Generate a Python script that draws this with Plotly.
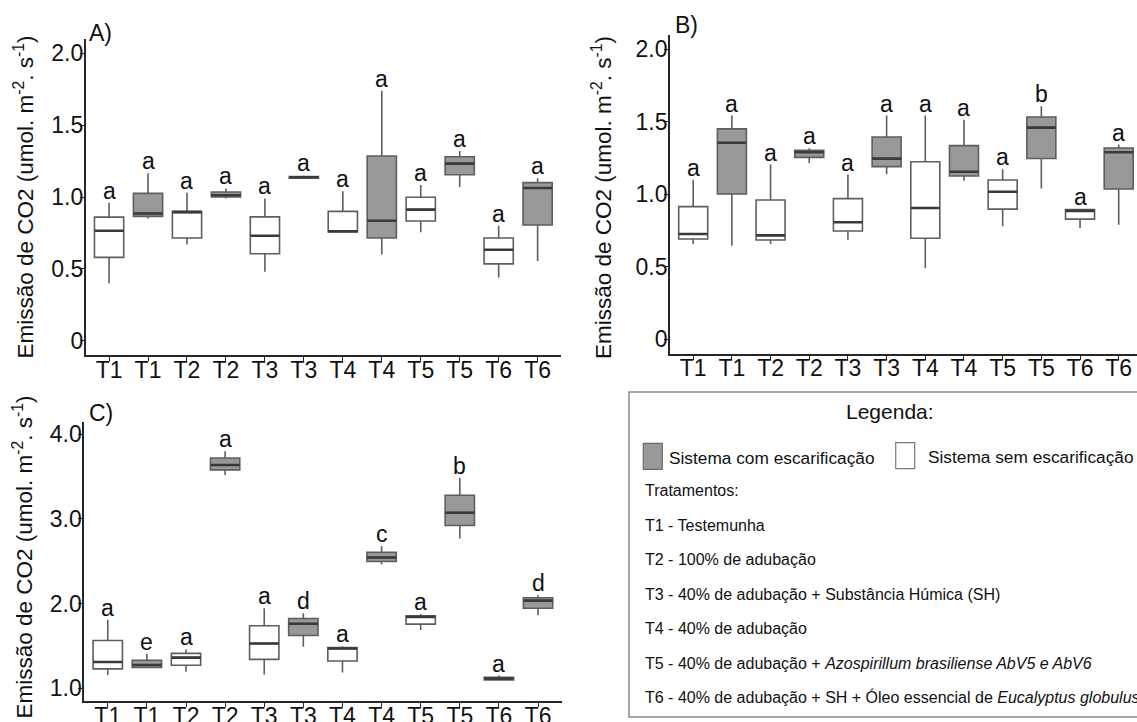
import plotly.graph_objects as go

W, H = 1137, 722

# ---------------- data ----------------
treat = ["T1", "T1", "T2", "T2", "T3", "T3", "T4", "T4", "T5", "T5", "T6", "T6"]
system = ["sem", "com"] * 6

# Panel A
a_lo  = [0.40, 0.850, 0.670, 0.990, 0.480, 1.125, 0.755, 0.600, 0.755, 1.070, 0.440, 0.555]
a_q1  = [0.58, 0.865, 0.715, 1.000, 0.605, 1.130, 0.757, 0.715, 0.833, 1.155, 0.535, 0.805]
a_med = [0.765, 0.885, 0.895, 1.012, 0.730, 1.137, 0.762, 0.835, 0.912, 1.232, 0.633, 1.063]
a_q3  = [0.86, 1.025, 0.900, 1.035, 0.862, 1.143, 0.900, 1.285, 0.998, 1.280, 0.715, 1.100]
a_hi  = [0.96, 1.165, 1.030, 1.060, 0.990, 1.150, 1.040, 1.740, 1.083, 1.320, 0.800, 1.130]
a_let = ["a"] * 12

# Panel B
b_lo  = [0.657, 0.646, 0.657, 1.216, 0.687, 1.138, 0.490, 1.094, 0.779, 1.040, 0.768, 0.790]
b_q1  = [0.692, 1.002, 0.685, 1.255, 0.747, 1.191, 0.697, 1.126, 0.898, 1.247, 0.829, 1.037]
b_med = [0.726, 1.356, 0.717, 1.290, 0.807, 1.246, 0.906, 1.156, 1.018, 1.460, 0.886, 1.290]
b_q3  = [0.915, 1.451, 0.961, 1.303, 0.970, 1.395, 1.225, 1.336, 1.099, 1.533, 0.894, 1.319]
b_hi  = [1.100, 1.543, 1.205, 1.317, 1.136, 1.543, 1.543, 1.515, 1.172, 1.607, 0.897, 1.343]
b_let = ["a", "a", "a", "a", "a", "a", "a", "a", "a", "b", "a", "a"]

# Panel C
c_lo  = [1.156, 1.237, 1.195, 3.520, 1.163, 1.490, 1.187, 2.463, 1.690, 2.770, 1.095, 1.863]
c_q1  = [1.230, 1.245, 1.272, 3.580, 1.342, 1.623, 1.323, 2.498, 1.758, 2.922, 1.100, 1.945]
c_med = [1.311, 1.276, 1.362, 3.638, 1.529, 1.763, 1.470, 2.545, 1.843, 3.074, 1.115, 2.035]
c_q3  = [1.564, 1.331, 1.412, 3.720, 1.739, 1.825, 1.482, 2.607, 1.857, 3.280, 1.130, 2.070]
c_hi  = [1.809, 1.409, 1.459, 3.800, 1.946, 1.887, 1.498, 2.681, 1.877, 3.486, 1.150, 2.100]
c_let = ["a", "e", "a", "a", "a", "d", "a", "c", "a", "b", "a", "d"]

ab_ticks = [0, 0.5, 1.0, 1.5, 2.0]
ab_ticktext = ["0", "0.5", "1.0", "1.5", "2.0"]
c_ticks = [1.0, 2.0, 3.0, 4.0]
c_ticktext = ["1.0", "2.0", "3.0", "4.0"]

ytitle = "Emissão de CO2 (umol. m<sup>-2</sup>. s<sup>-1</sup>)"

legend_title = "Legenda:"
legend_sys = ["Sistema com escarificação", "Sistema sem escarificação"]
legend_lines = [
    "Tratamentos:",
    "T1 - Testemunha",
    "T2 - 100% de adubação",
    "T3 - 40% de adubação + Substância Húmica (SH)",
    "T4 - 40% de adubação",
    "T5 - 40% de adubação + <i>Azospirillum brasiliense AbV5 e AbV6</i>",
    "T6 - 40% de adubação + SH + Óleo essencial de <i>Eucalyptus globulus</i>",
]

# ---------------- style ----------------
FONT = "Liberation Sans, Arial, sans-serif"
FILL = {"com": "#999999", "sem": "#ffffff"}
OUTLINE = "#5e5e5e"
MEDIAN = "#3a3a3a"
AXIS = "#262626"
BOXW = 0.75

fig = go.Figure()

panels = [
    ("x", "y", a_lo, a_q1, a_med, a_q3, a_hi, a_let),
    ("x2", "y2", b_lo, b_q1, b_med, b_q3, b_hi, b_let),
    ("x3", "y3", c_lo, c_q1, c_med, c_q3, c_hi, c_let),
]

annotations = []
for xa, ya, lo, q1, med, q3, hi, let in panels:
    for s in ["sem", "com"]:
        idx = [i for i, v in enumerate(system) if v == s]
        fig.add_trace(go.Box(
            x=idx,
            q1=[q1[i] for i in idx], median=[med[i] for i in idx], q3=[q3[i] for i in idx],
            lowerfence=[lo[i] for i in idx], upperfence=[hi[i] for i in idx],
            fillcolor=FILL[s], line=dict(color=OUTLINE, width=1.6),
            whiskerwidth=0, width=BOXW, boxpoints=False,
            xaxis=xa, yaxis=ya, showlegend=False, hoverinfo="skip",
        ))
    mx, my = [], []
    for i, m in enumerate(med):
        mx += [i - BOXW / 2, i + BOXW / 2, None]
        my += [m, m, None]
    fig.add_trace(go.Scatter(x=mx, y=my, mode="lines", line=dict(color=MEDIAN, width=2.6),
                             xaxis=xa, yaxis=ya, showlegend=False, hoverinfo="skip"))
    for i, t in enumerate(let):
        annotations.append(dict(x=i, y=hi[i], xref=xa, yref=ya, text=t, showarrow=False,
                                yanchor="bottom", xanchor="center", yshift=-3,
                                font=dict(family=FONT, size=23, color="#111")))

def px_x(p):
    return p / W

def px_y(p):
    return 1 - p / H

axis_common = dict(showline=True, linecolor=AXIS, linewidth=1.8, ticks="outside", ticklen=4,
                   tickcolor=AXIS, tickwidth=1.4, showgrid=False, zeroline=False,
                   tickfont=dict(family=FONT, size=23, color="#111"), automargin=False,
                   fixedrange=True)

xcat = dict(tickmode="array", tickvals=list(range(12)), ticktext=treat,
            ticklabelstandoff=-11, **axis_common)
ynum = dict(tickmode="array", ticklabelstandoff=-8, **axis_common)

fig.update_layout(
    width=W, height=H, margin=dict(l=0, r=0, t=0, b=0),
    paper_bgcolor="white", plot_bgcolor="white", boxmode="overlay",
    xaxis=dict(domain=[px_x(85.7), px_x(561)], range=[-0.6, 11.6], anchor="y", **xcat),
    yaxis=dict(domain=[px_y(355.1), px_y(38.9)], range=[-0.1, 2.1], anchor="x",
               tickvals=ab_ticks, ticktext=ab_ticktext, **ynum),
    xaxis2=dict(domain=[px_x(670), 1.0], range=[-0.6, 11.473], anchor="y2", **xcat),
    yaxis2=dict(domain=[px_y(353.8), px_y(34.8)], range=[-0.1, 2.1], anchor="x2",
                tickvals=ab_ticks, ticktext=ab_ticktext, **ynum),
    xaxis3=dict(domain=[px_x(84.3), px_x(561.5)], range=[-0.6, 11.6], anchor="y3", **xcat),
    yaxis3=dict(domain=[px_y(701.0), px_y(421.6)], range=[0.85, 4.15], anchor="x3",
                tickvals=c_ticks, ticktext=c_ticktext, **ynum),
)

# panel tags
for tag, xl, yc in [("A)", 87, 33.3), ("B)", 673, 25.3), ("C)", 87, 413.3)]:
    annotations.append(dict(x=px_x(xl), y=px_y(yc), xref="paper", yref="paper", text=tag,
                            showarrow=False, xanchor="left", yanchor="middle",
                            font=dict(family=FONT, size=23, color="#111")))

# y-axis titles
for xc, yc in [(23, 197.5), (602, 198), (22.5, 557)]:
    annotations.append(dict(x=px_x(xc), y=px_y(yc), xref="paper", yref="paper", text=ytitle,
                            textangle=-90, showarrow=False, xanchor="center", yanchor="middle",
                            font=dict(family=FONT, size=22.5, color="#111")))

# legend box
shapes = [
    dict(type="rect", xref="paper", yref="paper", x0=px_x(629), x1=px_x(1150),
         y0=px_y(717), y1=px_y(392), line=dict(color="#8a8a8a", width=1.5), fillcolor="white",
         layer="below"),
    dict(type="rect", xref="paper", yref="paper", x0=px_x(643.3), x1=px_x(662.3),
         y0=px_y(469.3), y1=px_y(443.3), line=dict(color="#6a6a6a", width=1.2),
         fillcolor=FILL["com"]),
    dict(type="rect", xref="paper", yref="paper", x0=px_x(895.7), x1=px_x(914.7),
         y0=px_y(468.7), y1=px_y(442.7), line=dict(color="#7a7a7a", width=1.2),
         fillcolor=FILL["sem"]),
]

annotations.append(dict(x=px_x(890), y=px_y(411.5), xref="paper", yref="paper", text=legend_title,
                        showarrow=False, xanchor="center", yanchor="middle",
                        font=dict(family=FONT, size=21, color="#111")))
for txt, xl, yc in [(legend_sys[0], 666.7, 457.5), (legend_sys[1], 926, 456.5)]:
    annotations.append(dict(x=px_x(xl), y=px_y(yc), xref="paper", yref="paper", text=txt,
                            showarrow=False, xanchor="left", yanchor="middle",
                            font=dict(family=FONT, size=17.3, color="#111")))
for txt, yc in zip(legend_lines, [490.5, 525, 559.3, 594, 628.3, 663.3, 697.3]):
    annotations.append(dict(x=px_x(642.7), y=px_y(yc), xref="paper", yref="paper", text=txt,
                            showarrow=False, xanchor="left", yanchor="middle",
                            font=dict(family=FONT, size=16.0, color="#111")))

fig.update_layout(annotations=annotations, shapes=shapes)

fig.write_html("out.html", config={"displayModeBar": False},
               post_script="document.body.style.margin='0';")
